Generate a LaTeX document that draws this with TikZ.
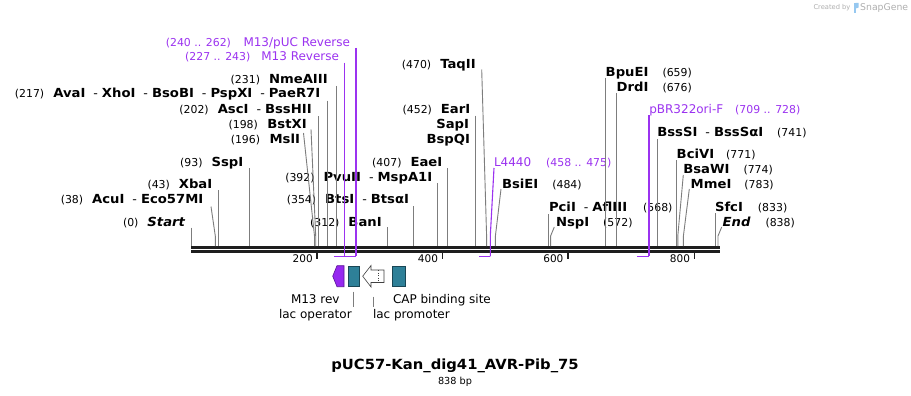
\documentclass[tikz,border=0pt]{standalone}
\usepackage{fontspec}
\setmainfont{DejaVu Sans}
\newfontfamily\wideface[FakeStretch=1.055]{DejaVu Sans}
\definecolor{cutgray}{RGB}{125,125,125}
\definecolor{primpurple}{RGB}{155,50,240}
\definecolor{m13fill}{RGB}{150,40,240}
\definecolor{m13edge}{RGB}{90,20,150}
\definecolor{tealfill}{RGB}{46,128,152}
\definecolor{tealedge}{RGB}{25,70,85}
\definecolor{seqblack}{RGB}{30,30,30}
\definecolor{sgray}{RGB}{175,175,175}
\definecolor{sblue}{RGB}{150,200,240}
\newcommand\lblname{\wideface\fontsize{12.5}{14}\selectfont\bfseries}
\newcommand\lblnum{\fontsize{10.9}{12}\selectfont}
\newcommand\lblprim{\fontsize{12}{14}\selectfont}
\newcommand\lblsep{\hspace{8pt}{\mdseries\fontsize{12}{14}\selectfont -}\hspace{4pt}}
\tikzset{
  nm/.style={inner sep=0pt, outer sep=0pt, font=\lblname},
  num/.style={inner sep=0pt, outer sep=0pt, font=\lblnum},
  pnm/.style={inner sep=0pt, outer sep=0pt, font=\lblprim, text=primpurple},
  pnum/.style={inner sep=0pt, outer sep=0pt, font=\lblnum, text=primpurple},
  ftxt/.style={inner sep=0pt, outer sep=0pt, font=\fontsize{12}{14}\selectfont},
  cut/.style={draw=cutgray, line width=0.9pt},
  prim/.style={draw=primpurple, line width=1.3pt},
  seq/.style={draw=seqblack, line width=2.6pt},
  tick/.style={draw=seqblack, line width=1.6pt},
  ticklbl/.style={inner sep=0pt, outer sep=0pt, font=\fontsize{10.5}{12}\selectfont},
}
\begin{document}
\begin{tikzpicture}[x=1pt,y=-1pt]
\fill[white] (0,0) rectangle (911,396);
\path[use as bounding box] (0,0) rectangle (911,396);

% ---------- sequence line ----------
\coordinate (seqL1) at (191,247.3); \coordinate (seqR1) at (720,247.3);
\coordinate (seqL2) at (191,251.3); \coordinate (seqR2) at (720,251.3);
\draw[seq] (seqL1) -- (seqR1);
\draw[seq] (seqL2) -- (seqR2);

% ticks
\foreach \nm/\xx/\lab in {t200/317/200, t400/442.3/400, t600/567.7/600, t800/694.3/800}{
  \coordinate (\nm a) at (\xx,252.5);
  \coordinate (\nm b) at (\xx,259);
  \draw[tick] (\nm a) -- (\nm b);
  \node[ticklbl, anchor=base east] (\nm l) at (\xx-4.3,262) {\lab};
}

% ---------- left-side labels ----------
\node[pnm, anchor=base east] (m13puc) at (350,46.8) {M13/pUC Reverse};
\node[pnum, anchor=base east] (m13pucn) at ([xshift=-12.5pt]m13puc.base west) {(240 .. 262)};
\node[pnm, anchor=base east] (m13r) at (339,61) {M13 Reverse};
\node[pnum, anchor=base east] (m13rn) at ([xshift=-11pt]m13r.base west) {(227 .. 243)};

\node[nm, anchor=base east] (nme) at (327.7,83.8) {NmeAIII};
\node[num, anchor=base east] (nmen) at ([xshift=-9pt]nme.base west) {(231)};
\node[nm, anchor=base east] (ava) at (320.3,97.8) {AvaI\lblsep XhoI\lblsep BsoBI\lblsep PspXI\lblsep PaeR7I};
\node[num, anchor=base east] (avan) at ([xshift=-9pt]ava.base west) {(217)};
\node[nm, anchor=base east] (asc) at (311.7,113.5) {AscI\lblsep BssHII};
\node[num, anchor=base east] (ascn) at ([xshift=-9pt]asc.base west) {(202)};
\node[nm, anchor=base east] (bstx) at (306.7,128.5) {BstXI};
\node[num, anchor=base east] (bstxn) at ([xshift=-9.5pt]bstx.base west) {(198)};
\node[nm, anchor=base east] (msl) at (300,143.5) {MslI};
\node[num, anchor=base east] (msln) at ([xshift=-9.5pt]msl.base west) {(196)};
\node[nm, anchor=base east] (ssp) at (243.3,166.8) {SspI};
\node[num, anchor=base east] (sspn) at ([xshift=-9pt]ssp.base west) {(93)};
\node[nm, anchor=base east] (xba) at (212.3,188.2) {XbaI};
\node[num, anchor=base east] (xban) at ([xshift=-9pt]xba.base west) {(43)};
\node[nm, anchor=base east] (acu) at (203.3,203.5) {AcuI\lblsep Eco57MI};
\node[num, anchor=base east] (acun) at ([xshift=-9pt]acu.base west) {(38)};
\node[nm, anchor=base east] (start) at (185,226.2) {\itshape Start};
\node[num, anchor=base east] (startn) at ([xshift=-9pt]start.base west) {(0)};

\node[nm, anchor=base east] (pvu) at (432.3,181.2) {PvuII\lblsep MspA1I};
\node[num, anchor=base east] (pvun) at ([xshift=-9pt]pvu.base west) {(392)};
\node[nm, anchor=base east] (bts) at (409,203.5) {BtsI\lblsep BtsαI};
\node[num, anchor=base east] (btsn) at ([xshift=-9pt]bts.base west) {(354)};
\node[nm, anchor=base east] (ban) at (381.7,226.2) {BanI};
\node[num, anchor=base east] (bann) at ([xshift=-9pt]ban.base west) {(312)};
\node[nm, anchor=base east] (eae) at (442.3,166.2) {EaeI};
\node[num, anchor=base east] (eaen) at ([xshift=-9pt]eae.base west) {(407)};
\node[nm, anchor=base east] (ear) at (470.3,113.5) {EarI};
\node[num, anchor=base east] (earn) at ([xshift=-9pt]ear.base west) {(452)};
\node[nm, anchor=base east] (sap) at (469,128.5) {SapI};
\node[nm, anchor=base east] (bspq) at (470,143.5) {BspQI};
\node[nm, anchor=base east] (taq) at (475.7,68.5) {TaqII};
\node[num, anchor=base east] (taqn) at ([xshift=-9pt]taq.base west) {(470)};

% ---------- right-side labels ----------
\node[pnm, anchor=base west] (l44) at (494,166.2) {L4440};
\node[pnum, anchor=base west] (l44n) at ([xshift=15pt]l44.base east) {(458 .. 475)};
\node[nm, anchor=base west] (bsie) at (502,188.2) {BsiEI};
\node[num, anchor=base west] (bsien) at ([xshift=14pt]bsie.base east) {(484)};
\node[nm, anchor=base west] (pci) at (549,211.5) {PciI\lblsep AflIII};
\node[num, anchor=base west] (pcin) at ([xshift=16pt]pci.base east) {(568)};
\node[nm, anchor=base west] (nsp) at (556,226.2) {NspI};
\node[num, anchor=base west] (nspn) at ([xshift=14pt]nsp.base east) {(572)};
\node[nm, anchor=base west] (bpue) at (605.7,76.8) {BpuEI};
\node[num, anchor=base west] (bpuen) at ([xshift=14pt]bpue.base east) {(659)};
\node[nm, anchor=base west] (drd) at (616.7,91.5) {DrdI};
\node[num, anchor=base west] (drdn) at ([xshift=14pt]drd.base east) {(676)};
\node[pnm, anchor=base west] (pbr) at (649.3,113.8) {pBR322ori-F};
\node[pnum, anchor=base west] (pbrn) at ([xshift=12pt]pbr.base east) {(709 .. 728)};
\node[nm, anchor=base west] (bsss) at (657.3,136.2) {BssSI\lblsep BssSαI};
\node[num, anchor=base west] (bsssn) at ([xshift=14pt]bsss.base east) {(741)};
\node[nm, anchor=base west] (bciv) at (676.7,158.5) {BciVI};
\node[num, anchor=base west] (bcivn) at ([xshift=12pt]bciv.base east) {(771)};
\node[nm, anchor=base west] (bsaw) at (683.3,173.5) {BsaWI};
\node[num, anchor=base west] (bsawn) at ([xshift=14pt]bsaw.base east) {(774)};
\node[nm, anchor=base west] (mme) at (690.7,188.5) {MmeI};
\node[num, anchor=base west] (mmen) at ([xshift=13pt]mme.base east) {(783)};
\node[nm, anchor=base west] (sfc) at (715,211.8) {SfcI};
\node[num, anchor=base west] (sfcn) at ([xshift=15pt]sfc.base east) {(833)};
\node[nm, anchor=base west] (endl) at (722.7,226.2) {\itshape End};
\node[num, anchor=base west] (endln) at ([xshift=15pt]endl.base east) {(838)};

% ---------- cut-site lines (vertical) ----------
\foreach \nm/\xx/\yy in {cstart/191.6/227.5, cxba/218.4/190, cssp/249.8/168,
    casc/318.3/116, cava/327.7/100.7, cnme/336.5/86, cban/387.3/227,
    cbts/413.7/206, cpvu/437.6/183, ceae/447/168, cear/475.4/115.5,
    cpci/548.7/214, cbpue/605.5/78, cdrd/616.3/93, cbsss/657/139,
    cbciv/676/160, csfc/715/213}{
  \coordinate (\nm t) at (\xx,\yy);
  \coordinate (\nm b) at (\xx,246);
  \draw[cut] (\nm t) -- (\nm b);
}
% ---------- cut-site lines (slanted) ----------
\foreach \nm/\xa/\ya/\xb in {cacu/211/206.5/215.3, cmsl/303.5/133/314.5,
    cbstx/311/129.3/315.7, ctaq/481.7/69.5/486.6, cbsie/501/189/495.4,
    cnsp/554.3/227/550.6, cbsaw/683.3/175/677.8, cmme/689.3/189/683.4,
    cend/721.7/227/718}{
  \coordinate (\nm t) at (\xa,\ya);
  \coordinate (\nm k) at (\xb,236);
  \coordinate (\nm b) at (\xb,246);
  \draw[cut] (\nm t) -- (\nm k) -- (\nm b);
}

% ---------- primers ----------
\coordinate (pm13t) at (344.3,62.7); \coordinate (pm13b) at (344.3,256.3);
\coordinate (pm13s) at (334.3,256.3);
\draw[prim, line width=1.1pt] (pm13t) -- (pm13b);
\draw[prim] (pm13s) -- (pm13b);
\coordinate (ppuct) at (356,48); \coordinate (ppucb) at (356,256.3);
\coordinate (ppucs) at (342,256.3);
\draw[prim, line width=1.1pt] (ppuct) -- (ppucb);
\draw[prim] (ppucs) -- (ppucb);
\coordinate (pl44t) at (494,168); \coordinate (pl44k) at (490.3,236);
\coordinate (pl44b) at (490.3,256.3); \coordinate (pl44s) at (479,256.3);
\draw[prim, line width=1.1pt] (pl44t) -- (pl44k) -- (pl44b);
\draw[prim] (pl44s) -- (pl44b);
\coordinate (ppbrt) at (649,115); \coordinate (ppbrb) at (649,256.3);
\coordinate (ppbrs) at (637,256.3);
\draw[prim, line width=1.1pt] (ppbrt) -- (ppbrb);
\draw[prim] (ppbrs) -- (ppbrb);

% ---------- features ----------
\draw[fill=m13fill, draw=m13edge, line width=0.6pt]
  (344,265.7) -- (337,265.7) -- (332.7,276.2) -- (337,286.7) -- (344,286.7) -- cycle;
\draw[fill=tealfill, draw=tealedge, line width=0.6pt] (348,266.3) rectangle (359.3,286.3);
\draw[fill=white, draw=black!75, line width=0.6pt]
  (384,270) -- (371,270) -- (371,265.5) -- (362.7,276.2) -- (371,287) -- (371,282.5) -- (384,282.5) -- cycle;
\draw[black!75, line width=0.6pt, dotted] (378,270) -- (378,282.5);
\draw[fill=tealfill, draw=tealedge, line width=0.6pt] (392.7,266.3) rectangle (405,286.3);

\node[ftxt, anchor=base] (fm13) at (315.3,303) {M13 rev};
\node[ftxt, anchor=base west] (fop) at (279,318) {lac operator};
\node[ftxt, anchor=base west] (fpro) at (373,318) {lac promoter};
\node[ftxt, anchor=base west] (fcap) at (393,303) {CAP binding site};
\coordinate (fopt) at (353,291.7); \coordinate (fopb) at (353,306.7);
\draw[cut, line width=0.8pt] (fopt) -- (fopb);
\coordinate (fprot) at (373.7,296.7); \coordinate (fprob) at (373.7,306.7);
\draw[cut, line width=0.8pt] (fprot) -- (fprob);

% ---------- title ----------
\node[inner sep=0pt, anchor=base, font=\wideface\fontsize{14}{16}\selectfont\bfseries] (title) at (455,369.5) {pUC57-Kan\_dig41\_AVR-Pib\_75};
\node[inner sep=0pt, anchor=base, font=\fontsize{9.7}{11}\selectfont] (bp) at (455,384.3) {838 bp};

% ---------- credit ----------
\node[inner sep=0pt, anchor=base west, font=\fontsize{6.7}{8}\selectfont, text=sgray] (credby) at (813.3,10) {Created by};
\fill[sblue] (853.5,3) rectangle (855.5,13);
\fill[sblue] (855.5,3) -- (858.5,3) -- (858.5,7.5) -- (855.5,8.5) -- cycle;
\node[inner sep=0pt, anchor=base west, font=\fontsize{9.3}{11}\selectfont, text=sgray] (sg) at (860,10.5) {SnapGene};
\end{tikzpicture}
\end{document}
